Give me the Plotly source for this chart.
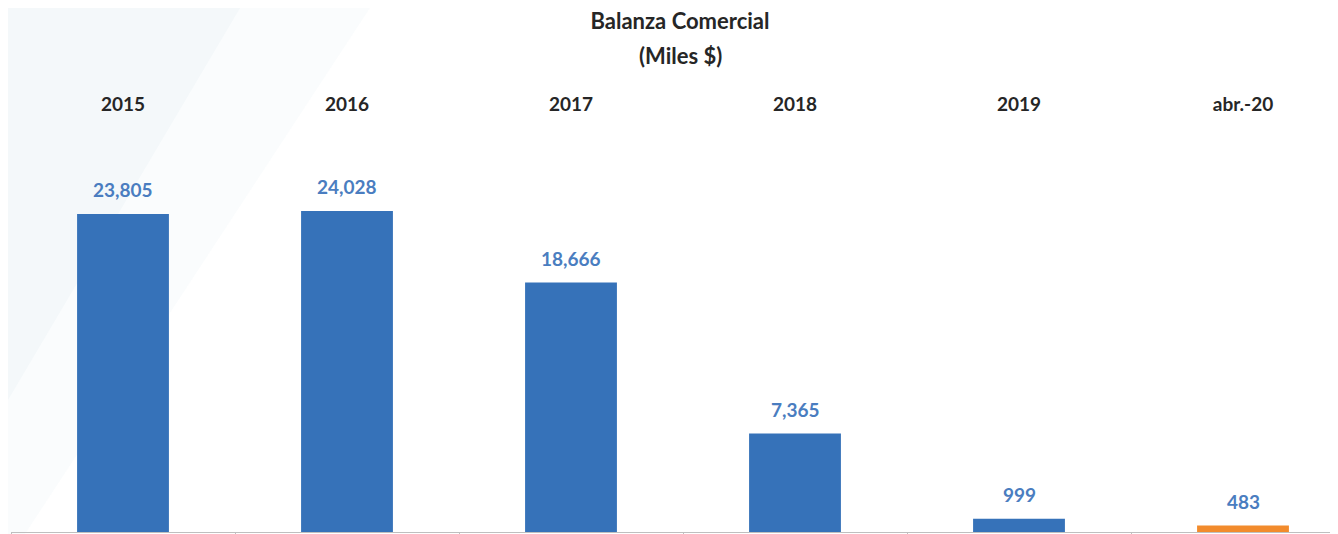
import plotly.graph_objects as go

categories = ["2015", "2016", "2017", "2018", "2019", "abr.-20"]
values = [23805, 24028, 18666, 7365, 999, 483]
bar_colors = ["#3672B9", "#3672B9", "#3672B9", "#3672B9", "#3672B9", "#F28B2C"]
title_main = "Balanza Comercial"
title_sub = "(Miles $)"

# page body has an 8px default margin -> figure is sized to fill the rest
OFF = 8
W, H = 1338 - OFF, 534 - OFF
L, R, T, B = 11 - OFF, 0, 130 - OFF, 2
px_per_unit = 0.01336
ymax = (H - T - B) / px_per_unit
cat_px = 224
xmax = -0.5 + (W - L - R) / cat_px

FONT = "Lato"
idx = list(range(len(categories)))

fig = go.Figure()
fig.add_trace(go.Bar(
    x=categories, y=values, width=0.41,
    marker=dict(color=bar_colors, line=dict(width=0)),
    hoverinfo="x+y", showlegend=False,
))
# invisible companion trace so the top category axis is rendered
fig.add_trace(go.Scatter(
    x=categories, y=values, xaxis="x2", yaxis="y", mode="markers",
    marker=dict(opacity=0), hoverinfo="skip", showlegend=False,
))

for i, v in zip(idx, values):
    fig.add_annotation(
        x=i, y=v, xref="x", yref="y", text=f"{v:,}", showarrow=False,
        yanchor="middle", yshift=24,
        font=dict(family=FONT, size=19, color="#4A7DC0", weight="bold"),
    )


def px2paper(px, py):
    # reference-image pixel -> plot-area paper coordinates
    fx, fy = px - OFF, py - OFF
    return (fx - L) / (W - L - R), (H - B - fy) / (H - T - B)


def path(points):
    pts = [px2paper(x, y) for x, y in points]
    return "M " + " L ".join(f"{x:.4f},{y:.4f}" for x, y in pts) + " Z"


fig.add_shape(type="path", xref="paper", yref="paper", layer="below",
              path=path([(8, 8), (370, 8), (8, 560)]),
              fillcolor="rgba(222,236,243,0.16)", line=dict(width=0))
fig.add_shape(type="path", xref="paper", yref="paper", layer="below",
              path=path([(8, 8), (240, 8), (8, 400)]),
              fillcolor="rgba(222,236,243,0.22)", line=dict(width=0))

fig.update_layout(
    width=W, height=H,
    margin=dict(l=L, r=R, t=T, b=B, pad=0, autoexpand=False),
    paper_bgcolor="white", plot_bgcolor="rgba(0,0,0,0)",
    title=dict(text=title_main, x=(680 - OFF) / W, xref="container", xanchor="center",
               y=1 - (21 - OFF) / H, yanchor="middle",
               font=dict(family=FONT, size=22, color="#262626", weight="bold")),
    xaxis=dict(type="category", range=[-0.5, xmax], showline=True, linecolor="#BFBFBF",
               linewidth=1, ticks="outside", tickson="boundaries", ticklen=6,
               tickcolor="#BFBFBF", showticklabels=False, showgrid=False, zeroline=False,
               fixedrange=True, automargin=False),
    xaxis2=dict(type="category", overlaying="x", side="top", range=[-0.5, xmax],
                showline=False, ticks="", showgrid=False, zeroline=False,
                ticklabelstandoff=14, fixedrange=True, automargin=False,
                tickfont=dict(family=FONT, size=19, color="#262626", weight="bold")),
    yaxis=dict(range=[0, ymax], visible=False, fixedrange=True, automargin=False),
    hovermode="closest",
)
fig.add_annotation(text=title_sub, xref="paper", yref="paper",
                   x=((680 - OFF) - L) / (W - L - R), y=(H - B - (55 - OFF)) / (H - T - B),
                   showarrow=False, xanchor="center", yanchor="middle",
                   font=dict(family=FONT, size=22, color="#262626", weight="bold"))

fig.write_html("out.html")
